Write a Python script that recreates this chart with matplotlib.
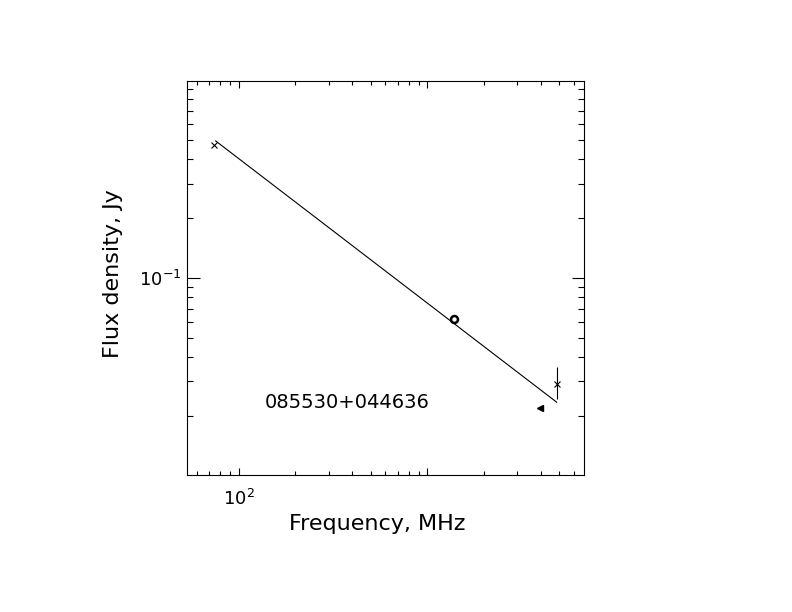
import math

import matplotlib.pyplot as pyplot
from matplotlib.ticker import LogLocator, NullFormatter, FuncFormatter

# spectrum of the source
freq_cross = [73.8, 4850.0]
flux_cross = [0.470, 0.0291]
flux_err_lo = [0.0, 0.0046]
flux_err_hi = [0.0, 0.0062]

freq_circle = [1390.0]
flux_circle = [0.0622]

freq_limit = [3950.0]
flux_limit = [0.0219]

fit_freq = [75.5, 4850.0]
fit_flux = [0.4927, 0.02355]

source_name = '085530+044636'
x_labelled = [100.0]
y_labelled = [0.1]


def only(values):
    # label just the listed decades, leave the other major ticks bare
    def fmt(v, pos):
        for w in values:
            if abs(v / w - 1) < 1e-6:
                return r'$\mathdefault{10^{%d}}$' % round(math.log10(w))
        return ''
    return FuncFormatter(fmt)


fig = pyplot.figure(figsize=(7.92, 6.12), dpi=100)
ax = fig.add_axes([0.2357, 0.2239, 0.5017, 0.6438])
ax.set_xscale('log')
ax.set_yscale('log')
ax.set_xlim(53.0, 6770.0)
ax.set_ylim(0.0101, 0.99)

ax.plot(fit_freq, fit_flux, color='black', linewidth=0.8)
ax.errorbar(freq_cross, flux_cross, yerr=[flux_err_lo, flux_err_hi],
            fmt='x', color='black', markersize=5, markeredgewidth=0.8,
            elinewidth=0.8, capsize=0)
ax.plot(freq_circle, flux_circle, 'o', markersize=5, markerfacecolor='white',
        markeredgecolor='black', markeredgewidth=1.8)
ax.plot(freq_limit, flux_limit, '<', markersize=4, color='black')

ax.text(0.197, 0.183, source_name, transform=ax.transAxes, fontsize=14,
        va='center', ha='left')

ax.xaxis.set_major_locator(LogLocator(base=10))
ax.xaxis.set_minor_locator(LogLocator(base=10, subs=range(2, 10)))
ax.yaxis.set_major_locator(LogLocator(base=10))
ax.yaxis.set_minor_locator(LogLocator(base=10, subs=range(2, 10)))
ax.xaxis.set_major_formatter(only(x_labelled))
ax.yaxis.set_major_formatter(only(y_labelled))
ax.xaxis.set_minor_formatter(NullFormatter())
ax.yaxis.set_minor_formatter(NullFormatter())

ax.tick_params(axis='both', which='both', direction='in', top=True, right=True,
               width=0.8, labelsize=13)
ax.tick_params(axis='x', which='major', length=5, pad=10)
ax.tick_params(axis='x', which='minor', length=3)
ax.tick_params(axis='y', which='major', length=9, pad=4)
ax.tick_params(axis='y', which='minor', length=4)
for spine in ax.spines.values():
    spine.set_linewidth(0.8)

ax.set_xlabel('Frequency, MHz', fontsize=16)
ax.set_ylabel('Flux density, Jy', fontsize=16, labelpad=11)
ax.xaxis.set_label_coords(0.479, -0.1)
ax.yaxis.label.set_y(0.511)

fig.savefig('out.png', dpi=100)
